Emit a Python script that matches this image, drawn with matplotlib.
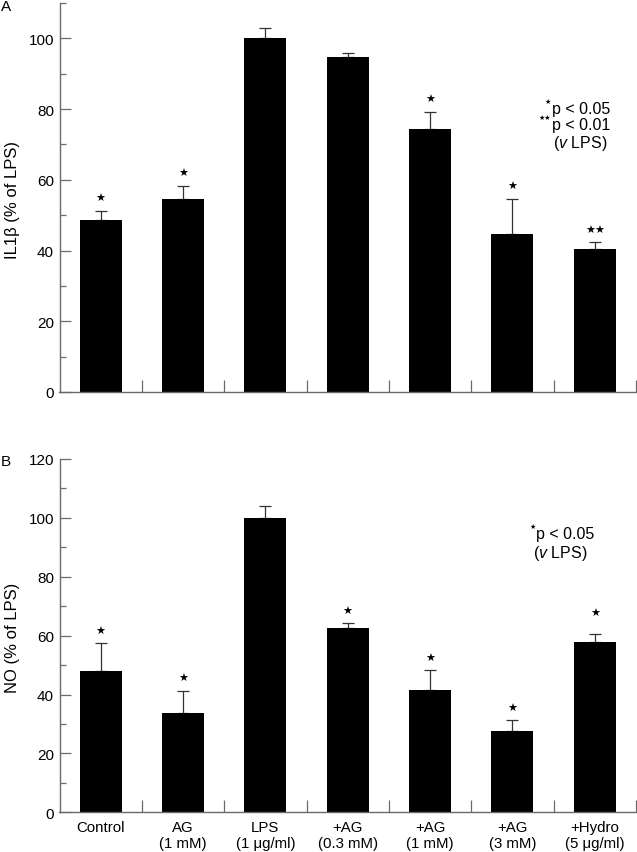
import numpy as np
import matplotlib
matplotlib.use('Agg')
import matplotlib.pyplot as plt
from matplotlib.ticker import MultipleLocator, FixedLocator

plt.rcParams['font.family'] = ['Liberation Sans', 'DejaVu Sans']
plt.rcParams['mathtext.fontset'] = 'custom'
plt.rcParams['mathtext.it'] = 'Liberation Sans:italic'
plt.rcParams['mathtext.rm'] = 'Liberation Sans'

groups = ['Control', 'AG\n(1 mM)', 'LPS\n(1 \u03bcg/ml)', '+AG\n(0.3 mM)',
          '+AG\n(1 mM)', '+AG\n(3 mM)', '+Hydro\n(5 \u03bcg/ml)']

# panel A: IL1b
il1b = [48.6, 54.5, 100.0, 94.7, 74.4, 44.8, 40.4]
il1b_err = [2.6, 3.8, 2.9, 1.1, 4.8, 9.9, 1.9]
il1b_sig = ['\u2605', '\u2605', '', '', '\u2605', '\u2605', '\u2605\u2605']

# panel B: NO
no = [48.0, 33.8, 99.8, 62.6, 41.7, 27.5, 57.8]
no_err = [9.4, 7.5, 4.3, 1.6, 6.5, 3.8, 2.7]
no_sig = ['\u2605', '\u2605', '', '\u2605', '\u2605', '\u2605', '\u2605']
no_sig_off = [9, 9, 9, 9, 9, 9, 15]

gray = '#6a6a6a'
W, H = 637, 853
fig = plt.figure(figsize=(W/100, H/100), dpi=100)

def px(x0, y0, x1, y1):
    return [x0/W, 1-y1/H, (x1-x0)/W, (y1-y0)/H]

axA = fig.add_axes(px(59.5, 4.0, 636, 393))
axB = fig.add_axes(px(59.5, 460, 636, 813.3))

def panel(ax, vals, errs, sig, offs, ymax, labels):
    x = np.arange(len(vals))
    ax.bar(x, vals, width=0.51, color='black', zorder=2)
    ax.errorbar(x, vals, yerr=[np.zeros(len(vals)), errs], fmt='none',
                ecolor='#333333', elinewidth=0.9, capsize=4, capthick=0.9, zorder=1)
    for i in range(len(vals)):
        if sig[i]:
            ax.annotate(sig[i], (x[i], vals[i]+errs[i]), xytext=(0, offs[i]),
                        textcoords='offset points', ha='center', va='center',
                        fontsize=8, family='DejaVu Sans')
    ax.set_xlim(-0.5, len(vals)-0.5)
    ax.set_ylim(0, ymax)
    for s in ['top', 'right']:
        ax.spines[s].set_visible(False)
    for s in ['left', 'bottom']:
        ax.spines[s].set_color(gray)
        ax.spines[s].set_linewidth(1.0)
    ax.yaxis.set_major_locator(MultipleLocator(20))
    ax.yaxis.set_minor_locator(MultipleLocator(10))
    ax.tick_params(axis='y', which='major', direction='in', length=8, width=0.9,
                   color=gray, labelsize=11, pad=4)
    ax.tick_params(axis='y', which='minor', direction='in', length=4.5, width=0.9, color=gray)
    ax.set_xticks(x)
    ax.xaxis.set_minor_locator(FixedLocator(np.arange(0.5, len(vals), 1.0)))
    ax.tick_params(axis='x', which='major', length=0, labelsize=10.8, pad=5.5)
    ax.tick_params(axis='x', which='minor', direction='in', length=9, width=0.9, color=gray)
    if labels:
        ax.set_xticklabels(groups)
    else:
        ax.set_xticklabels([])

panel(axA, il1b, il1b_err, il1b_sig, [9]*7, 110, False)
panel(axB, no, no_err, no_sig, no_sig_off, 120, True)

# significance notes
def sig_text(ax, x0, y, stars, txt):
    ax.text(x0, y, txt, ha='left', va='baseline', fontsize=11.5)
    ax.annotate(stars, (x0, y), xytext=(-0.3, 8.5), textcoords='offset points',
                ha='right', va='center', fontsize=5, family='DejaVu Sans')

sig_text(axA, 5.476, 79.0, '\u2605', 'p < 0.05')
sig_text(axA, 5.476, 74.3, '\u2605\u2605', 'p < 0.01')
axA.text(5.827, 69.3, '($\\mathit{v}$ LPS)', ha='center', va='baseline', fontsize=11.5)

sig_text(axB, 5.286, 93.2, '\u2605', 'p < 0.05')
axB.text(5.577, 86.7, '($\\mathit{v}$ LPS)', ha='center', va='baseline', fontsize=11.5)

fig.text(12.5/W, 1-200/H, 'IL1\u03b2 (% of LPS)', rotation=90, ha='center', va='center', fontsize=12)
fig.text(12.5/W, 1-638/H, 'NO (% of LPS)', rotation=90, ha='center', va='center', fontsize=12)
fig.text(6/W, 1-7/H, 'A', ha='center', va='center', fontsize=11)
fig.text(6/W, 1-462/H, 'B', ha='center', va='center', fontsize=11)

fig.savefig('out.png', dpi=100)
